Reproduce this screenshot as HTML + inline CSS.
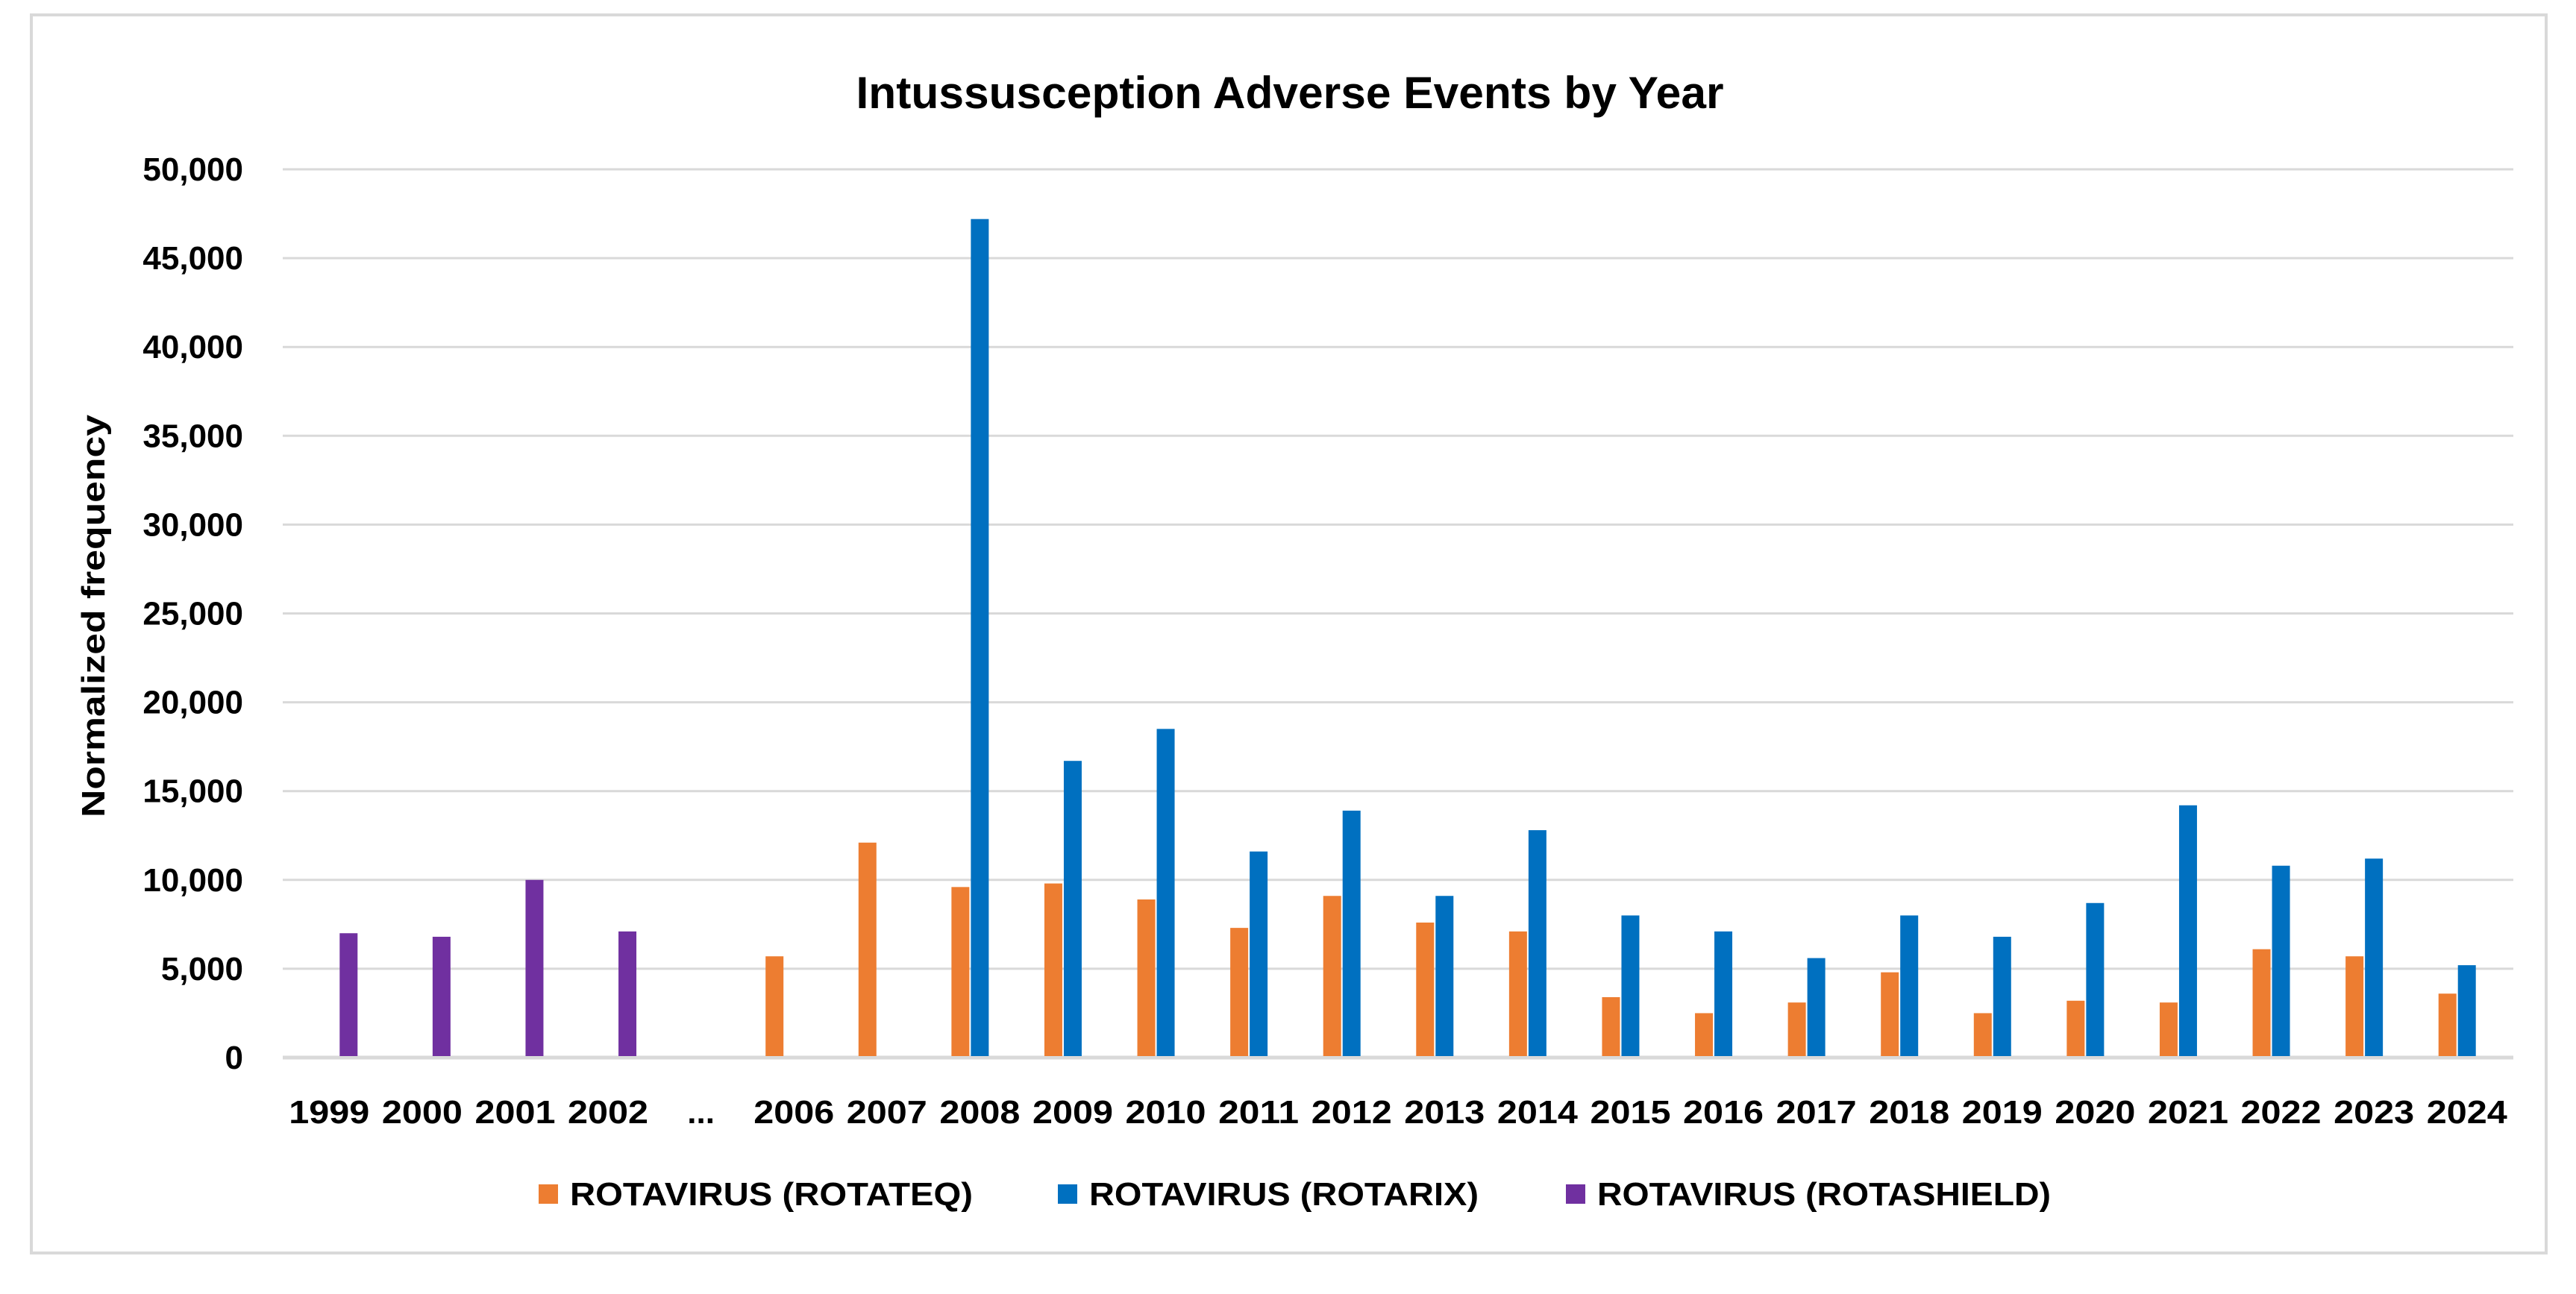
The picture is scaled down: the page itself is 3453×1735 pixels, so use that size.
<!DOCTYPE html>
<html><head><meta charset="utf-8"><style>
html,body{margin:0;padding:0;background:#fff;}
svg{display:block;font-family:"Liberation Sans",sans-serif;}
</style></head><body>
<svg id="chart" width="3453" height="1735" viewBox="0 0 3453 1735">
<rect x="42" y="20" width="3371" height="1660" fill="#fff" stroke="#d9d9d9" stroke-width="4"/>
<text x="1729" y="145" text-anchor="middle" font-size="60" font-weight="bold" textLength="1163" lengthAdjust="spacingAndGlyphs">Intussusception Adverse Events by Year</text>
<text transform="translate(140,826) rotate(-90)" text-anchor="middle" font-size="44" font-weight="bold" textLength="540" lengthAdjust="spacingAndGlyphs">Normalized frequency</text>
<g id="grid"></g><g id="bars"></g><g id="xlabels"></g>
<g>
<rect x="722" y="1588" width="26" height="26" fill="#ed7d31"/>
<text x="764" y="1616" font-size="44" font-weight="bold" textLength="540" lengthAdjust="spacingAndGlyphs">ROTAVIRUS (ROTATEQ)</text>
<rect x="1418" y="1588" width="26" height="26" fill="#0070c0"/>
<text x="1460" y="1616" font-size="44" font-weight="bold" textLength="522" lengthAdjust="spacingAndGlyphs">ROTAVIRUS (ROTARIX)</text>
<rect x="2099" y="1588" width="26" height="26" fill="#7030a0"/>
<text x="2141" y="1616" font-size="44" font-weight="bold" textLength="608" lengthAdjust="spacingAndGlyphs">ROTAVIRUS (ROTASHIELD)</text>
</g>
</svg>
<script>
const categories = ["1999","2000","2001","2002","...","2006","2007","2008","2009","2010","2011","2012","2013","2014","2015","2016","2017","2018","2019","2020","2021","2022","2023","2024"];
const rotateq = [0,0,0,0,0,5700,12100,9600,9800,8900,7300,9100,7600,7100,3400,2500,3100,4800,2500,3200,3100,6100,5700,3600];
const rotarix = [0,0,0,0,0,0,0,47200,16700,18500,11600,13900,9100,12800,8000,7100,5600,8000,6800,8700,14200,10800,11200,5200];
const rotashield = [7000,6800,10000,7100,0,0,0,0,0,0,0,0,0,0,0,0,0,0,0,0,0,0,0,0];
const yTicks = [0,5000,10000,15000,20000,25000,30000,35000,40000,45000,50000];
const yTickLabels = ["0","5,000","10,000","15,000","20,000","25,000","30,000","35,000","40,000","45,000","50,000"];

const NS="http://www.w3.org/2000/svg";
const X0=379, X1=3369, Y0=1418, Y1=227, YMAX=50000;
const bw=(X1-X0)/categories.length;
function y(v){return Y0-(v/YMAX)*(Y0-Y1);}
function xc(i){return X0+(i+0.5)*bw;}
function mk(tag,attrs,parent){const e=document.createElementNS(NS,tag);for(const k in attrs)e.setAttribute(k,attrs[k]);parent.appendChild(e);return e;}
const grid=document.getElementById('grid'),bars=document.getElementById('bars'),xl=document.getElementById('xlabels');
yTicks.forEach((t,i)=>{
  const l=mk('line',{x1:X0,x2:X1,y1:y(t),y2:y(t),stroke:'#d9d9d9','stroke-width':t===0?5:3},grid);
  
  
  const tx=mk('text',{x:326,y:y(t)+15,'text-anchor':'end','font-size':44,'font-weight':'bold'},grid);
  tx.textContent=yTickLabels[i];
  
  
});
const series=[[rotateq,'#ed7d31',-26,'rotateq'],[rotarix,'#0070c0',0,'rotarix'],[rotashield,'#7030a0',26,'rotashield']];
categories.forEach((c,i)=>{
  series.forEach(s=>{
    const v=s[0][i]; if(!v) return;
    const r=mk('rect',{x:xc(i)+s[2]-12,y:y(v),width:24,height:Y0-y(v)-2,fill:s[1]},bars);
    
    
  });
  const t=mk('text',{x:xc(i),y:1506,'text-anchor':'middle','font-size':44,'font-weight':'bold'},xl);
  if(c!=="...") t.setAttribute('textLength',108);
  t.setAttribute('lengthAdjust','spacingAndGlyphs');
  t.textContent=c;
  
  
});
</script>
</body></html>
